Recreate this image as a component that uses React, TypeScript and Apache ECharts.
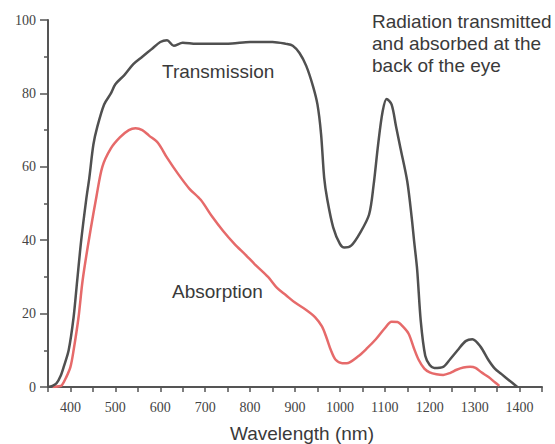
import React, { useEffect, useRef } from "react";
import * as echarts from "echarts";

const transmissionNm = [
  350, 360, 369, 378, 385, 396, 407, 415, 424, 435, 442, 451, 460, 475, 490, 500, 520, 540, 560, 580, 600,
  615, 630, 650, 680, 720, 760, 800, 850, 880, 895, 910, 925, 940, 950, 958, 965, 972, 985, 1000, 1010,
  1025, 1045, 1065, 1075, 1085, 1095, 1104, 1115, 1125, 1135, 1150, 1160, 1165, 1172, 1180, 1190, 1200,
  1210, 1230, 1245, 1262, 1280, 1295, 1313, 1330, 1345, 1360, 1375, 1395,
];
const transmissionPct = [
  0, 0.3, 1, 3, 5.5, 10, 19, 29, 40, 51, 57, 66, 71, 77, 80, 82.5, 85, 88, 90, 92, 94,
  94.5, 93, 93.8, 93.5, 93.5, 93.6, 94, 94, 93.5, 93, 91, 87.5, 82, 77, 69, 57, 51, 43.5, 39, 38,
  38.5, 42, 47, 55, 66, 75, 78.5, 77, 71, 65, 56, 46, 40, 32, 18, 8.5, 6,
  5.2, 5.5, 7.5, 10, 12.5, 13, 11, 7.5, 5, 3.5, 2, 0,
];

const absorptionNm = [
  360, 375, 381, 390, 400, 407, 418, 426, 433, 445, 458, 471, 490, 510, 530, 545, 560, 575, 595,
  615, 640, 665, 690, 715, 740, 765, 790, 810, 840, 860, 880, 900, 925, 945, 960, 970, 980, 990, 1005,
  1015, 1040, 1060, 1080, 1100, 1115, 1128, 1140, 1153, 1165, 1175, 1188, 1200, 1215, 1230, 1245, 1260,
  1275, 1290, 1302, 1315, 1331, 1345, 1355,
];
const absorptionPct = [
  0, 0.2, 0.5, 2.5, 5.5, 10, 19, 28, 34, 43, 52, 60, 65, 68, 70, 70.5, 70, 68.5, 66.5,
  62.5, 58, 54, 51, 46.5, 42.5, 39, 36, 33.5, 30, 27, 25, 23, 21, 19, 16.5, 13.5, 10, 7.5, 6.5,
  6.5, 8.3, 10.5, 13, 16, 17.8, 17.7, 16.5, 14.5, 10.5, 7.5, 5, 4, 3.5, 3.3, 3.8, 4.7,
  5.3, 5.5, 5.2, 4, 2.7, 1.3, 0.3,
];

const seriesNames = ["Transmission", "Absorption"];
const xAxisTitle = "Wavelength (nm)";
const noteLines = ["Radiation transmitted", "and absorbed at the", "back of the eye"];

const zip = (xs: number[], ys: number[]) => xs.map((x, i) => [x, ys[i]]);

export default function App() {
  const ref = useRef<HTMLDivElement>(null);
  useEffect(() => {
    if (!ref.current) return;
    const chart = echarts.init(ref.current, null, { renderer: "svg" });
    const axisColor = "#555";
    const sans = "'Liberation Sans', Arial, sans-serif";
    const serif = "'Liberation Serif', 'Times New Roman', serif";
    chart.setOption({
      animation: false,
      backgroundColor: "#fff",
      grid: { left: 48, right: 13, top: 20, bottom: 57 },
      xAxis: {
        type: "value",
        min: 350,
        max: 1450,
        interval: 50,
        axisLine: { lineStyle: { color: axisColor, width: 2 } },
        axisTick: { show: true, length: 5, lineStyle: { color: axisColor, width: 1.5 } },
        axisLabel: {
          margin: 13,
          color: "#444",
          fontFamily: serif,
          fontSize: 14,
          formatter: (v: number) => (v % 100 === 0 && v >= 400 && v <= 1400 ? String(v) : ""),
        },
        splitLine: { show: false },
      },
      yAxis: {
        type: "value",
        min: 0,
        max: 100,
        interval: 20,
        axisLine: { show: true, lineStyle: { color: axisColor, width: 2 } },
        axisTick: { show: true, length: 8, lineStyle: { color: axisColor, width: 1.5 } },
        minorTick: { show: true, splitNumber: 2, length: 4, lineStyle: { color: axisColor, width: 1.5 } },
        axisLabel: { margin: 12, color: "#444", fontFamily: serif, fontSize: 14 },
        splitLine: { show: false },
      },
      series: [
        {
          name: seriesNames[0],
          type: "line",
          data: zip(transmissionNm, transmissionPct),
          showSymbol: false,
          smooth: 0.3,
          lineStyle: { color: "#505050", width: 2.5 },
          z: 3,
        },
        {
          name: seriesNames[1],
          type: "line",
          data: zip(absorptionNm, absorptionPct),
          showSymbol: false,
          smooth: 0.3,
          lineStyle: { color: "#e66a6a", width: 2.5 },
          z: 2,
        },
      ],
      graphic: [
        {
          type: "text",
          left: 162,
          top: 62,
          style: { text: seriesNames[0], fontFamily: sans, fontSize: 19, fill: "#3a3a3a" },
        },
        {
          type: "text",
          left: 172,
          top: 282,
          style: { text: seriesNames[1], fontFamily: sans, fontSize: 19, fill: "#3a3a3a" },
        },
        {
          type: "text",
          left: 372,
          top: 10,
          style: {
            text: noteLines.join("\n"),
            fontFamily: sans,
            fontSize: 19,
            lineHeight: 22,
            fill: "#3a3a3a",
          },
        },
        {
          type: "text",
          left: 230,
          top: 424,
          style: { text: xAxisTitle, fontFamily: sans, fontSize: 19, fill: "#3a3a3a" },
        },
      ],
    });
    return () => chart.dispose();
  }, []);
  return (
    <div
      ref={ref}
      style={{ position: "fixed", left: 0, top: 0, width: 555, height: 444, background: "#fff" }}
    />
  );
}
